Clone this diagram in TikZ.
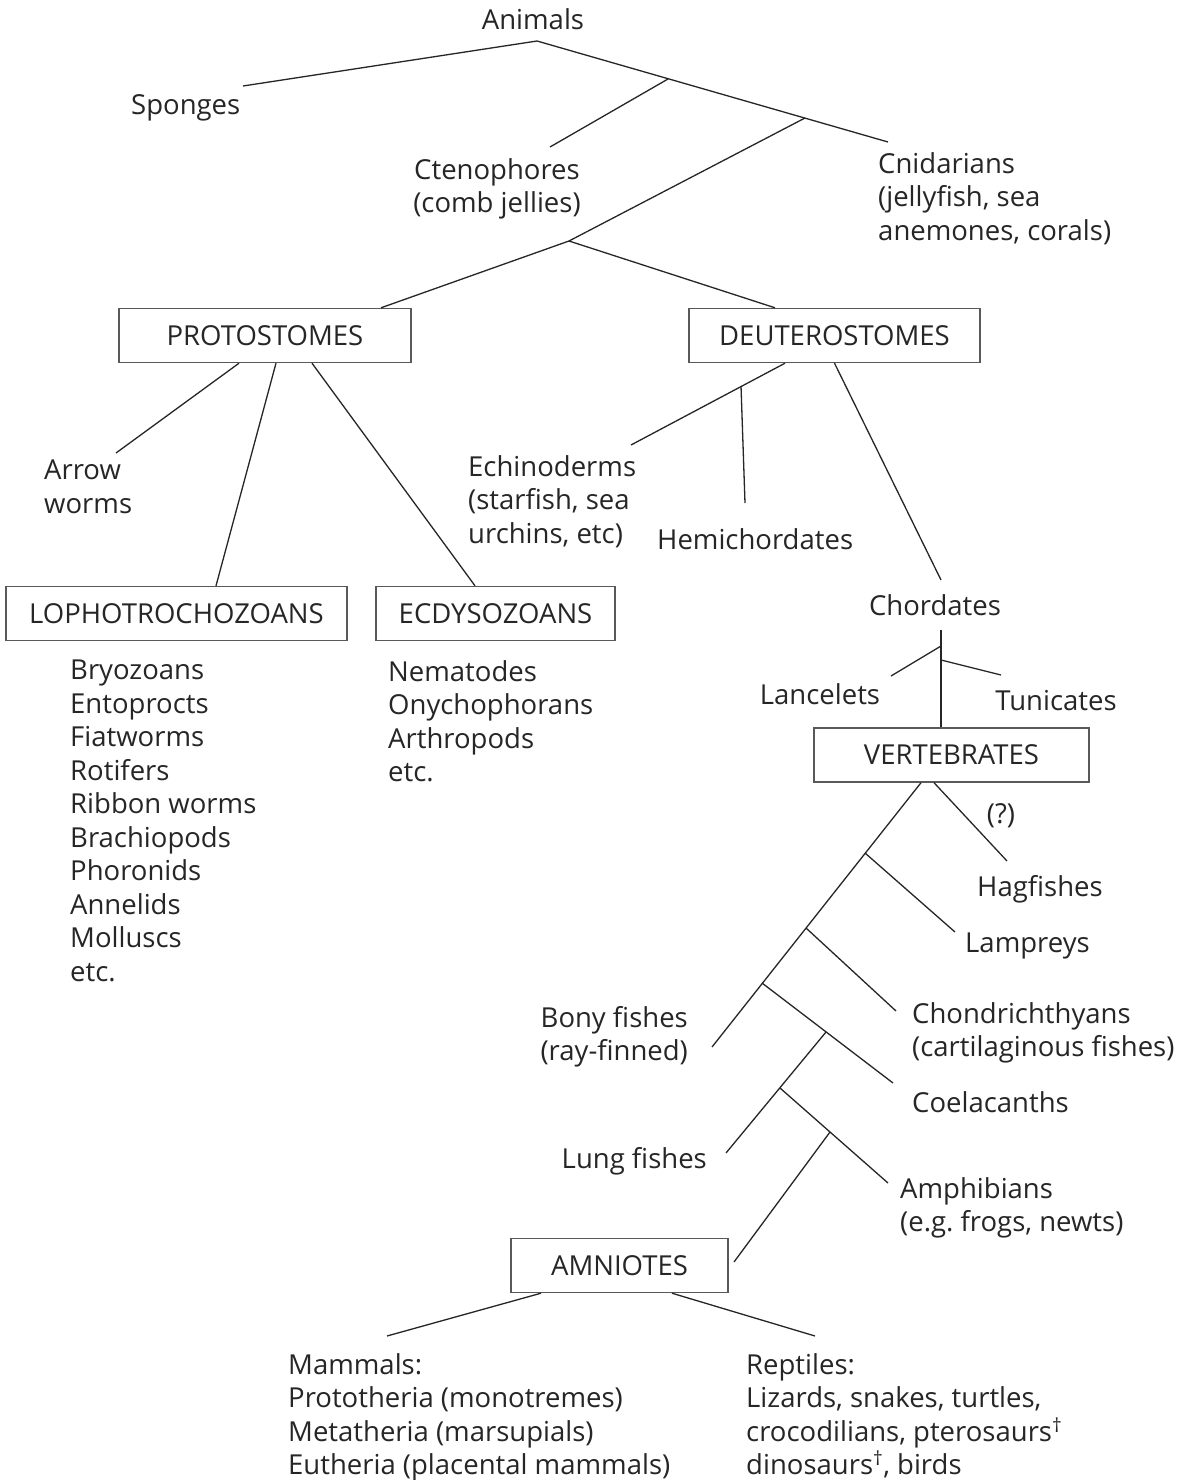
\documentclass[tikz,border=0pt]{standalone}
\usepackage{fontspec}
\setmainfont{Open Sans}
\usetikzlibrary{calc}
\frenchspacing
\begin{document}
\begin{tikzpicture}[x=1pt,y=-1pt,
  lab/.style={font=\fontsize{27.5}{33.5}\selectfont, inner sep=0pt, text=black!85},
  labl/.style={lab, align=left, anchor=north west},
  labc/.style={lab, align=center, anchor=north},
  labr/.style={lab, align=right, anchor=north east},
  box/.style={draw=black!65, line width=1.4pt, inner sep=0pt, font=\fontsize{27.5}{33.5}\selectfont, text=black!85, minimum height=54pt},
  con/.style={line width=1.3pt, draw=black!85}]
\path[fill=white] (0,0) rectangle (1178,1480);
\useasboundingbox (0,0) rectangle (1178,1480);

% labels
\node[labc] (animals) at (533,8) {Animals};
\node[labl] (sponges) at (131,94) {Sponges};
\node[labc] (cteno) at (497,158) {Ctenophores\\(comb jellies)};
\node[labl] (cnid) at (878,152) {Cnidarians\\(jellyfish, sea\\anemones, corals)};
\node[labl] (arrow) at (44,460) {Arrow\\worms};
\node[labl] (echino) at (468,455) {Echinoderms\\(starfish, sea\\urchins, etc)};
\node[labl] (hemi) at (657,528) {Hemichordates};
\node[labc] (chord) at (935,594) {Chordates};
\node[labl] (loplist) at (70,660) {Bryozoans\\Entoprocts\\Fiatworms\\Rotifers\\Ribbon worms\\Brachiopods\\Phoronids\\Annelids\\Molluscs\\etc.};
\node[labl] (ecdlist) at (388,660) {Nematodes\\Onychophorans\\Arthropods\\etc.};
\node[labc] (lanc) at (820,683) {Lancelets};
\node[labc] (tuni) at (1056,690) {Tunicates};
\node[labc] (quest) at (1001,803) {(?)};
\node[labl] (hag) at (977,875) {Hagfishes};
\node[labl] (lamp) at (965,933) {Lampreys};
\node[labr] (bony) at (688,1006) {Bony fishes\\(ray-finned)};
\node[labl] (chon) at (912,1002) {Chondrichthyans\\(cartilaginous fishes)};
\node[labl] (coel) at (912,1091) {Coelacanths};
\node[labr] (lung) at (707,1147) {Lung fishes};
\node[labl] (amph) at (900,1177) {Amphibians\\(e.g. frogs, newts)};
\node[labl] (mamm) at (288,1353) {Mammals:\\Prototheria (monotremes)\\Metatheria (marsupials)\\Eutheria (placental mammals)};
\node[labl] (rept) at (746,1353) {Reptiles:\\Lizards, snakes, turtles,\\crocodilians, pterosaurs\textsuperscript{†}\\dinosaurs\textsuperscript{†}, birds};

% boxes
\node[box, minimum width=292pt] (proto) at (265,335.5) {PROTOSTOMES};
\node[box, minimum width=291pt] (deut) at (834.5,335.5) {DEUTEROSTOMES};
\node[box, minimum width=341pt] (lopho) at (176.5,613.5) {LOPHOTROCHOZOANS};
\node[box, minimum width=239pt] (ecdy) at (495.5,613.5) {ECDYSOZOANS};
\node[box, minimum width=275pt] (vert) at (951.5,755) {VERTEBRATES};
\node[box, minimum width=217pt] (amn) at (619.5,1265.5) {AMNIOTES};

% branch points and free ends
\coordinate (root) at (537,41);
\coordinate (spE) at (243,86);
\coordinate (cnE) at (888,142);
\coordinate (b1) at (668,79);
\coordinate (ctE) at (550,147);
\coordinate (b2) at (805,118);
\coordinate (j) at (569,241);
\coordinate (arrE) at (116,453);
\coordinate (echE) at (631,445);
\coordinate (hb) at (741,386);
\coordinate (hemE) at (745,503);
\coordinate (chE) at (941,580);
\coordinate (chB) at (941,630);
\coordinate (lb) at (941,646);
\coordinate (lanE) at (891,676);
\coordinate (tb) at (941,660);
\coordinate (tunE) at (1001,675);
\coordinate (bonyE) at (712,1047);
\coordinate (hagE) at (1007,861);
\coordinate (n1) at (865,853);
\coordinate (lamE) at (955,932);
\coordinate (n2) at (806,928);
\coordinate (chonE) at (896,1011);
\coordinate (n3) at (762,983);
\coordinate (coeE) at (893,1083);
\coordinate (n4) at (826,1032);
\coordinate (lungE) at (726,1153);
\coordinate (n5) at (780,1088);
\coordinate (amphE) at (888,1183);
\coordinate (n6) at (830,1132);
\coordinate (amnE) at (734,1262);
\coordinate (mamE) at (387,1336);
\coordinate (repE) at (815,1336);

% connectors
\draw[con] (spE) -- (root) -- (cnE);
\draw[con] (b1) -- (ctE);
\draw[con] (b2) -- (j);
\draw[con] (j) -- ([xshift=116pt]proto.north);
\draw[con] (j) -- ([xshift=-59.5pt]deut.north);
\draw[con] ([xshift=-26pt]proto.south) -- (arrE);
\draw[con] ([xshift=11pt]proto.south) -- ([xshift=39.5pt]lopho.north);
\draw[con] ([xshift=47pt]proto.south) -- ([xshift=-20.5pt]ecdy.north);
\draw[con] ([xshift=-49.5pt]deut.south) -- (echE);
\draw[con] (hb) -- (hemE);
\draw[con] (deut.south) -- (chE);
\draw[con] (chB) -- ([xshift=-10.5pt]vert.north);
\draw[con] (lb) -- (lanE);
\draw[con] (tb) -- (tunE);
\draw[con] ([xshift=-30.5pt]vert.south) -- (bonyE);
\draw[con] ([xshift=-17.5pt]vert.south) -- (hagE);
\draw[con] (n1) -- (lamE);
\draw[con] (n2) -- (chonE);
\draw[con] (n3) -- (coeE);
\draw[con] (n4) -- (lungE);
\draw[con] (n5) -- (amphE);
\draw[con] (n6) -- (amnE);
\draw[con] ([xshift=-78.5pt]amn.south) -- (mamE);
\draw[con] ([xshift=52.5pt]amn.south) -- (repE);
\end{tikzpicture}
\end{document}
